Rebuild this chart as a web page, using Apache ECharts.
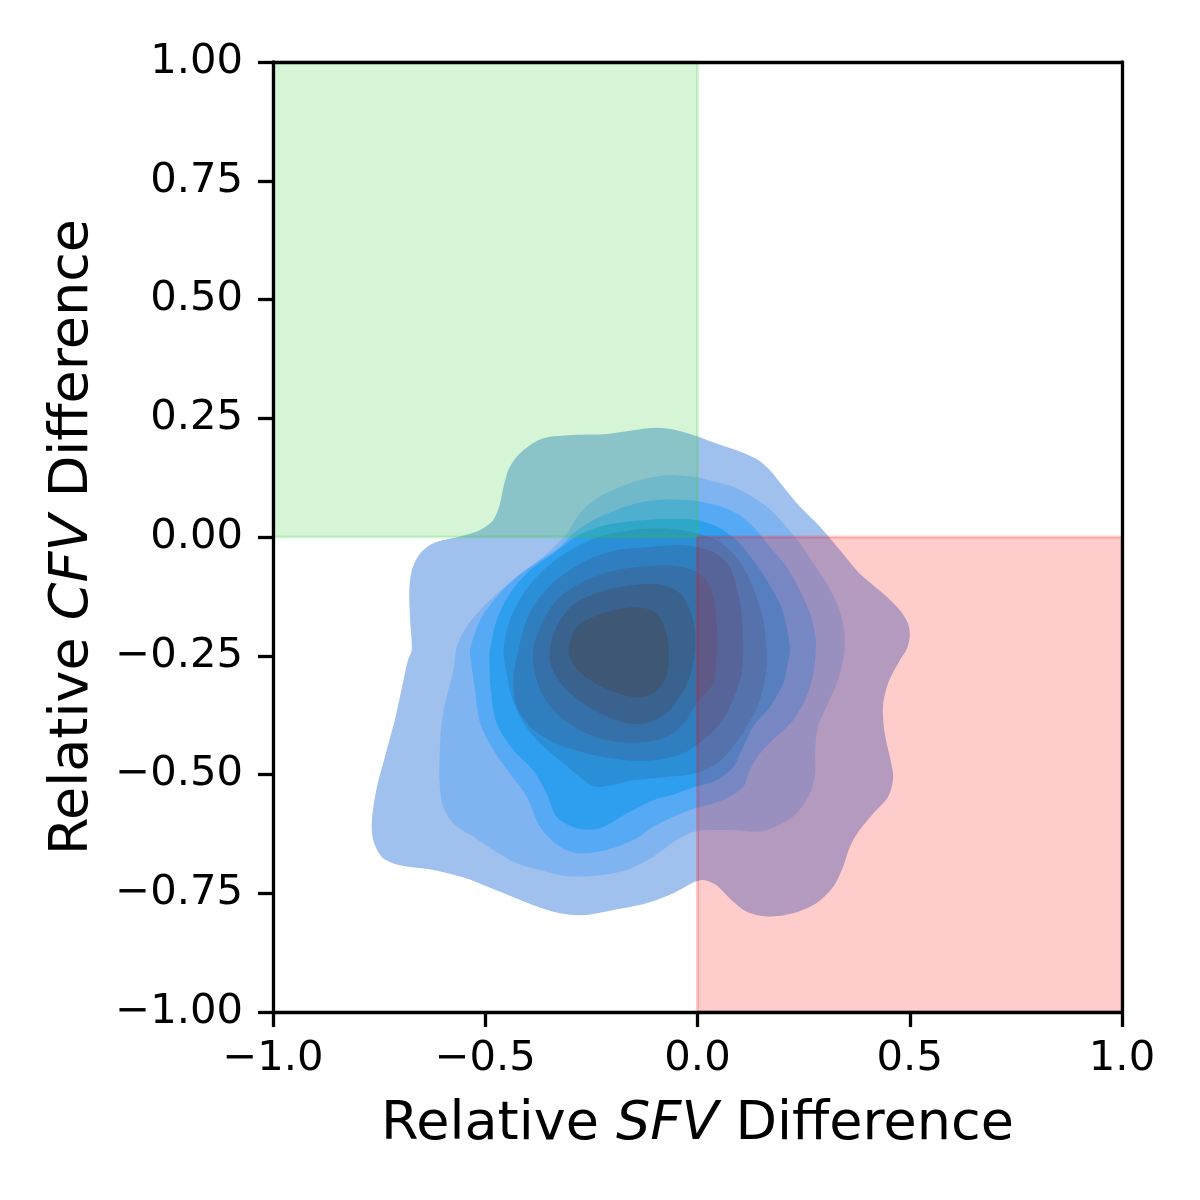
<!DOCTYPE html>
<html>
<head>
<meta charset="utf-8">
<script src="https://cdn.jsdelivr.net/npm/echarts/dist/echarts.min.js"></script>
<style>
  body { margin: 0; background: #fff; }
  .kde-chart { width: 1200px; height: 1200px; }
</style>
</head>
<body>
<div class="kde-chart"></div>
<script>
// tick labels
var xTickLabels = ['\u22121.0', '\u22120.5', '0.0', '0.5', '1.0'];
var yTickLabels = ['\u22121.00', '\u22120.75', '\u22120.50', '\u22120.25', '0.00', '0.25', '0.50', '0.75', '1.00'];

// shaded quadrants [x0, x1, y0, y1]
var greenSpan = [-1, 0, 0, 1];
var redSpan = [0, 1, -1, 0];

// kde contour levels, outermost first, [x, y] points
var level1 = [[-0.673,-0.238],[-0.677,-0.175],[-0.679,-0.119],[-0.673,-0.070],[-0.654,-0.035],[-0.622,-0.013],[-0.560,0.001],[-0.512,0.015],[-0.481,0.036],[-0.465,0.071],[-0.457,0.106],[-0.442,0.148],[-0.410,0.183],[-0.363,0.208],[-0.293,0.215],[-0.214,0.217],[-0.151,0.225],[-0.096,0.230],[-0.049,0.225],[-0.010,0.215],[0.045,0.197],[0.100,0.180],[0.143,0.162],[0.170,0.141],[0.202,0.106],[0.241,0.064],[0.288,0.022],[0.335,-0.027],[0.382,-0.077],[0.437,-0.119],[0.477,-0.154],[0.496,-0.182],[0.500,-0.210],[0.492,-0.238],[0.477,-0.259],[0.449,-0.308],[0.437,-0.357],[0.441,-0.413],[0.453,-0.463],[0.461,-0.505],[0.449,-0.547],[0.414,-0.582],[0.382,-0.617],[0.359,-0.652],[0.343,-0.694],[0.320,-0.736],[0.280,-0.771],[0.225,-0.792],[0.163,-0.799],[0.116,-0.789],[0.076,-0.761],[0.045,-0.733],[0.014,-0.722],[-0.006,-0.726],[-0.057,-0.750],[-0.120,-0.771],[-0.198,-0.785],[-0.269,-0.796],[-0.324,-0.792],[-0.387,-0.775],[-0.465,-0.747],[-0.544,-0.719],[-0.622,-0.701],[-0.701,-0.691],[-0.743,-0.674],[-0.764,-0.638],[-0.767,-0.596],[-0.755,-0.526],[-0.734,-0.455],[-0.713,-0.385],[-0.701,-0.337],[-0.682,-0.259]];
var level2 = [[-0.567,-0.231],[-0.544,-0.189],[-0.505,-0.147],[-0.455,-0.105],[-0.405,-0.070],[-0.355,-0.035],[-0.308,0.008],[-0.277,0.050],[-0.238,0.081],[-0.191,0.102],[-0.136,0.120],[-0.073,0.130],[-0.034,0.129],[-0.002,0.126],[0.045,0.116],[0.084,0.106],[0.123,0.088],[0.163,0.064],[0.202,0.029],[0.241,-0.013],[0.273,-0.056],[0.304,-0.098],[0.328,-0.140],[0.343,-0.182],[0.347,-0.224],[0.343,-0.259],[0.328,-0.308],[0.304,-0.357],[0.284,-0.399],[0.277,-0.448],[0.277,-0.498],[0.265,-0.540],[0.233,-0.582],[0.194,-0.606],[0.147,-0.620],[0.084,-0.617],[0.037,-0.617],[-0.006,-0.620],[-0.049,-0.638],[-0.104,-0.673],[-0.167,-0.701],[-0.230,-0.712],[-0.308,-0.714],[-0.371,-0.701],[-0.426,-0.687],[-0.481,-0.659],[-0.528,-0.631],[-0.575,-0.603],[-0.599,-0.568],[-0.608,-0.512],[-0.607,-0.448],[-0.603,-0.392],[-0.591,-0.336],[-0.575,-0.280]];
var level3 = [[-0.536,-0.238],[-0.512,-0.175],[-0.473,-0.126],[-0.426,-0.084],[-0.371,-0.049],[-0.324,-0.021],[-0.293,0.008],[-0.245,0.036],[-0.191,0.057],[-0.128,0.074],[-0.073,0.079],[-0.026,0.078],[-0.002,0.076],[0.045,0.067],[0.092,0.050],[0.131,0.022],[0.171,-0.021],[0.210,-0.063],[0.241,-0.112],[0.265,-0.161],[0.277,-0.203],[0.279,-0.238],[0.273,-0.287],[0.257,-0.336],[0.226,-0.385],[0.186,-0.420],[0.147,-0.456],[0.123,-0.491],[0.108,-0.526],[0.076,-0.547],[0.037,-0.561],[-0.006,-0.571],[-0.057,-0.589],[-0.104,-0.610],[-0.151,-0.638],[-0.214,-0.659],[-0.277,-0.666],[-0.324,-0.652],[-0.371,-0.610],[-0.402,-0.547],[-0.442,-0.498],[-0.481,-0.448],[-0.512,-0.392],[-0.524,-0.322],[-0.534,-0.259]];
var level4 = [[-0.489,-0.238],[-0.473,-0.175],[-0.442,-0.119],[-0.395,-0.070],[-0.340,-0.035],[-0.285,0.001],[-0.230,0.022],[-0.167,0.032],[-0.104,0.037],[-0.041,0.038],[-0.002,0.036],[0.045,0.022],[0.092,-0.007],[0.131,-0.049],[0.163,-0.091],[0.194,-0.140],[0.210,-0.189],[0.218,-0.238],[0.214,-0.259],[0.202,-0.308],[0.171,-0.357],[0.131,-0.399],[0.108,-0.441],[0.084,-0.484],[0.045,-0.512],[-0.006,-0.526],[-0.049,-0.540],[-0.104,-0.554],[-0.167,-0.582],[-0.230,-0.613],[-0.285,-0.613],[-0.332,-0.589],[-0.355,-0.540],[-0.387,-0.491],[-0.434,-0.448],[-0.473,-0.392],[-0.487,-0.322],[-0.490,-0.266]];
var level5 = [[-0.457,-0.238],[-0.442,-0.175],[-0.410,-0.119],[-0.363,-0.070],[-0.300,-0.028],[-0.230,0.001],[-0.151,0.015],[-0.088,0.018],[-0.041,0.015],[-0.002,0.008],[0.045,-0.007],[0.084,-0.035],[0.116,-0.077],[0.139,-0.126],[0.155,-0.175],[0.163,-0.238],[0.163,-0.273],[0.147,-0.343],[0.116,-0.399],[0.084,-0.441],[0.045,-0.477],[-0.006,-0.498],[-0.073,-0.505],[-0.151,-0.512],[-0.238,-0.526],[-0.277,-0.505],[-0.324,-0.470],[-0.371,-0.434],[-0.410,-0.392],[-0.438,-0.336],[-0.451,-0.280]];
var level6 = [[-0.422,-0.238],[-0.403,-0.175],[-0.371,-0.126],[-0.324,-0.084],[-0.261,-0.049],[-0.191,-0.028],[-0.112,-0.021],[-0.049,-0.017],[-0.002,-0.021],[0.045,-0.035],[0.076,-0.063],[0.092,-0.105],[0.104,-0.161],[0.108,-0.238],[0.104,-0.287],[0.084,-0.343],[0.053,-0.392],[0.014,-0.427],[-0.034,-0.456],[-0.104,-0.470],[-0.167,-0.470],[-0.245,-0.459],[-0.324,-0.438],[-0.387,-0.406],[-0.426,-0.357],[-0.434,-0.301]];
var level7 = [[-0.387,-0.238],[-0.363,-0.175],[-0.324,-0.126],[-0.261,-0.091],[-0.191,-0.070],[-0.112,-0.061],[-0.057,-0.061],[-0.010,-0.070],[0.021,-0.091],[0.037,-0.126],[0.045,-0.175],[0.047,-0.238],[0.045,-0.259],[0.037,-0.308],[-0.002,-0.350],[-0.026,-0.385],[-0.057,-0.413],[-0.104,-0.429],[-0.159,-0.433],[-0.214,-0.428],[-0.269,-0.410],[-0.324,-0.378],[-0.363,-0.336],[-0.383,-0.287]];
var level8 = [[-0.348,-0.238],[-0.332,-0.189],[-0.293,-0.143],[-0.230,-0.115],[-0.151,-0.101],[-0.081,-0.101],[-0.041,-0.119],[-0.018,-0.154],[-0.006,-0.196],[-0.006,-0.240],[-0.018,-0.294],[-0.041,-0.336],[-0.073,-0.371],[-0.120,-0.392],[-0.167,-0.392],[-0.214,-0.378],[-0.269,-0.350],[-0.316,-0.315],[-0.344,-0.273]];
var level9 = [[-0.304,-0.238],[-0.285,-0.192],[-0.245,-0.168],[-0.198,-0.154],[-0.143,-0.148],[-0.104,-0.157],[-0.081,-0.182],[-0.069,-0.224],[-0.069,-0.273],[-0.081,-0.308],[-0.112,-0.333],[-0.151,-0.337],[-0.198,-0.326],[-0.253,-0.301],[-0.289,-0.273]];

var levels = [level1, level2, level3, level4, level5, level6, level7, level8, level9];
var levelColors = ['#a0c1ee', '#80b4f0', '#56a9f5', '#2e9eee', '#2b8fd8', '#2e7ec0', '#3670a8', '#3a628f', '#3d5775'];

var font = 'DejaVu Sans';

function kdeChart() {
  const chart = echarts.init(document.querySelector('.kde-chart'));

  // one polygon per level, drawn through the axes
  function drawLevel(params, api) {
    const pts = levels[api.value(2)].map(function (p) { return api.coord(p); });
    return {
      type: 'polygon',
      shape: { points: pts, smooth: 0.3 },
      style: { fill: levelColors[api.value(2)] }
    };
  }

  function drawSpan(params, api) {
    const p0 = api.coord([api.value(0), api.value(3)]);
    const p1 = api.coord([api.value(1), api.value(2)]);
    const color = params.dataIndex === 0 ? 'rgba(50,205,50,0.2)' : 'rgba(255,0,0,0.2)';
    return {
      type: 'rect',
      shape: { x: p0[0], y: p0[1], width: p1[0] - p0[0], height: p1[1] - p0[1] },
      style: { fill: color, stroke: color, lineWidth: 3 }
    };
  }

  const spineLine = { show: true, onZero: false, lineStyle: { color: '#000', width: 3.3 } };

  chart.setOption({
    animation: false,
    grid: { left: 273, top: 62, width: 849, height: 950 },
    xAxis: [
      {
        type: 'value', min: -1, max: 1, interval: 0.5, z: 10,
        axisLine: spineLine,
        axisTick: { show: true, length: 15, lineStyle: { color: '#000', width: 3.3 } },
        axisLabel: {
          color: '#000', fontSize: 41.7, fontFamily: font, margin: 26,
          formatter: function (v, i) { return xTickLabels[i]; }
        },
        splitLine: { show: false },
        name: '{n|Relative }{i|SFV}{n| Difference}',
        nameLocation: 'middle',
        nameGap: 86,
        nameTextStyle: {
          color: '#000', fontSize: 54, fontFamily: font,
          rich: {
            n: { fontSize: 54, fontFamily: font, color: '#000' },
            i: { fontSize: 54, fontFamily: font, color: '#000', fontStyle: 'italic' }
          }
        }
      },
      {
        type: 'value', position: 'top', min: -1, max: 1, z: 10,
        axisLine: spineLine, axisTick: { show: false }, axisLabel: { show: false }, splitLine: { show: false }
      }
    ],
    yAxis: [
      {
        type: 'value', min: -1, max: 1, interval: 0.25, z: 10,
        axisLine: spineLine,
        axisTick: { show: true, length: 15, lineStyle: { color: '#000', width: 3.3 } },
        axisLabel: {
          color: '#000', fontSize: 41.7, fontFamily: font, margin: 30,
          formatter: function (v, i) { return yTickLabels[i]; }
        },
        splitLine: { show: false },
        name: '{n|Relative }{i|CFV}{n| Difference}',
        nameLocation: 'middle',
        nameGap: 173,
        nameTextStyle: {
          color: '#000', fontSize: 54, fontFamily: font,
          rich: {
            n: { fontSize: 54, fontFamily: font, color: '#000' },
            i: { fontSize: 54, fontFamily: font, color: '#000', fontStyle: 'italic' }
          }
        }
      },
      {
        type: 'value', position: 'right', min: -1, max: 1, z: 10,
        axisLine: spineLine, axisTick: { show: false }, axisLabel: { show: false }, splitLine: { show: false }
      }
    ],
    series: [
      {
        type: 'custom',
        z: 2,
        renderItem: drawLevel,
        encode: { x: 0, y: 1 },
        data: levels.map(function (pts, i) { return [pts[0][0], pts[0][1], i]; })
      },
      {
        type: 'custom',
        z: 3,
        renderItem: drawSpan,
        encode: { x: [0, 1], y: [2, 3] },
        data: [greenSpan, redSpan]
      }
    ]
  });
}

kdeChart();
</script>
</body>
</html>
